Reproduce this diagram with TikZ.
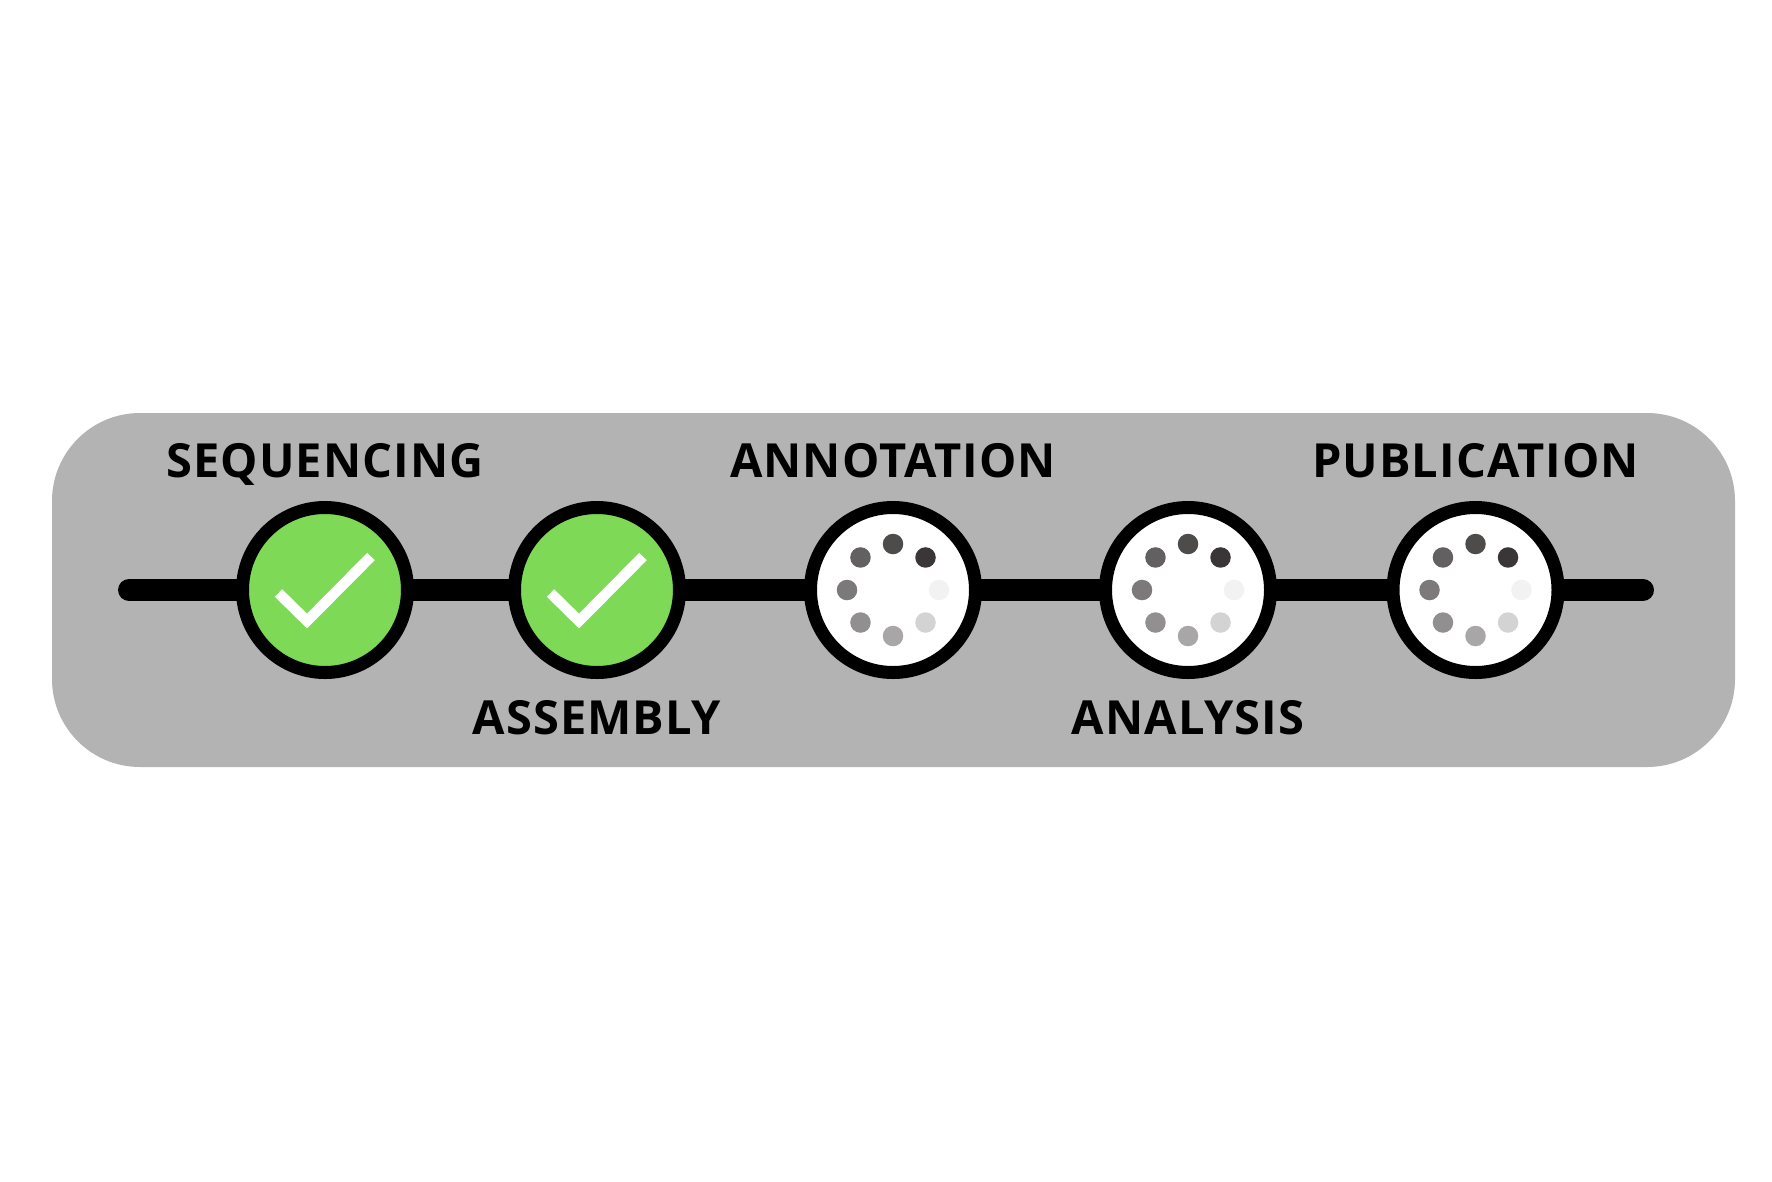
\documentclass[tikz,border=0pt]{standalone}
\usepackage{fontspec}
\setmainfont{Open Sans}[LetterSpace=2.2]
\usetikzlibrary{backgrounds}
\definecolor{panelgrey}{HTML}{B3B3B3}
\definecolor{donegreen}{HTML}{7ED957}
\tikzset{
  x=1pt,y=-1pt,
  panelbox/.style={fill=panelgrey,rounded corners=88pt,minimum width=1683pt,minimum height=354pt,inner sep=0pt,outer sep=0pt},
  stage/.style={circle,draw=black,line width=13pt,minimum size=165pt,inner sep=0pt,outer sep=0pt},
  donestage/.style={stage,fill=donegreen},
  waitstage/.style={stage,fill=white},
  link/.style={draw=black,line width=22pt},
  tipline/.style={link,line cap=round},
  tick/.style={draw=white,line width=10.5pt,miter limit=10},
  stagelabel/.style={font=\bfseries\fontsize{47pt}{47pt}\selectfont,text=black,anchor=base,inner sep=0pt,outer sep=0pt},
  spinnerdot/.style={circle,inner sep=0pt,outer sep=0pt,minimum size=20.5pt}
}
\begin{document}
\begin{tikzpicture}
\useasboundingbox (0,0) rectangle (1772,1181);
\begin{scope}[on background layer]
  \fill[white] (0,0) rectangle (1772,1181);
  \node[panelbox] (panel) at (893.5,590) {};
\end{scope}
\node[donestage] (s1) at (325,590) {};
\node[donestage] (s2) at (597,590) {};
\node[waitstage] (s3) at (893,590) {};
\node[waitstage] (s4) at (1188,590) {};
\node[waitstage] (s5) at (1475.5,590) {};
\coordinate (lineL) at (129,590);
\coordinate (lineR) at (1643,590);
\begin{scope}[on background layer]
  \draw[tipline] (lineL) -- (s1);
  \draw[tipline] (s5) -- (lineR);
\end{scope}
\draw[link] (s1) -- (s2);
\draw[link] (s2) -- (s3);
\draw[link] (s3) -- (s4);
\draw[link] (s4) -- (s5);
\foreach \n in {s1,s2}{
  \draw[tick] ([shift={(-46.5,3)}]\n.center) -- ([shift={(-18,31)}]\n.center) -- ([shift={(46,-33.5)}]\n.center);
}
\foreach \n in {s3,s4,s5}{
  \foreach \a/\c in {90/4D4C4A,45/3A3637,0/F2F2F2,-45/D3D3D3,-90/A8A6A7,-135/918F90,180/7B797A,135/626061}{
    \definecolor{dotcol}{HTML}{\c}
    \node[spinnerdot,fill=dotcol] at ([shift={({46*cos(\a)},{-46*sin(\a)})}]\n.center) {};
  }
}
\node[stagelabel] (t1) at (325,477) {SEQUENCING};
\node[stagelabel] (t2) at (597,734) {ASSEMBLY};
\node[stagelabel] (t3) at (893,477) {ANNOTATION};
\node[stagelabel] (t4) at (1188,734) {ANALYSIS};
\node[stagelabel] (t5) at (1475.5,477) {PUBLICATION};
\end{tikzpicture}
\end{document}
